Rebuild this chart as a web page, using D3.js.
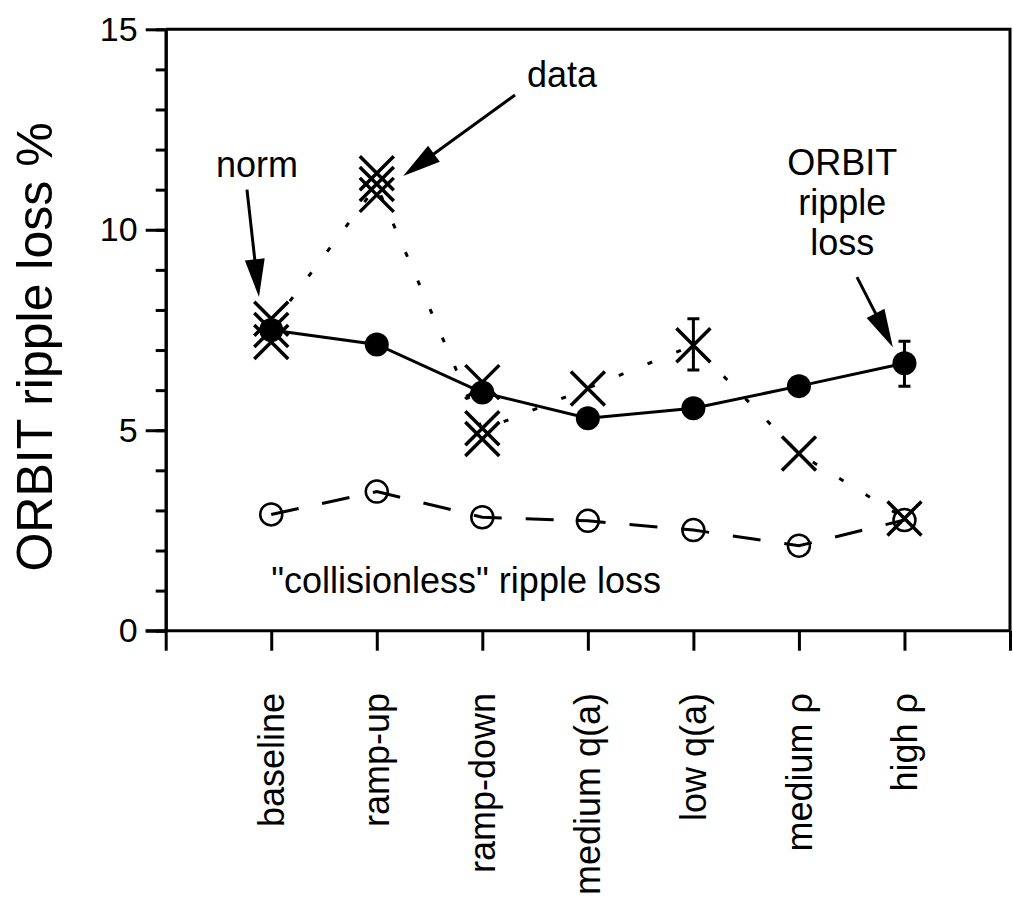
<!DOCTYPE html>
<html>
<head>
<meta charset="utf-8">
<script src="https://cdn.jsdelivr.net/npm/d3@7"></script>
<style>
  body { margin: 0; background: #fff; }
  svg { display: block; font-family: "Liberation Sans", Arial, Helvetica, sans-serif; }
</style>
</head>
<body>
<svg></svg>
<script>
// categories along the x axis (placed at 1..7)
const categories = ["baseline", "ramp-up", "ramp-down", "medium q(a)", "low q(a)", "medium ρ", "high ρ"];

// ORBIT ripple loss (filled circles, solid line)
const orbitLoss = [7.50, 7.14, 5.94, 5.30, 5.55, 6.10, 6.67];
// "collisionless" ripple loss (open circles, dashed line)
const collisionless = [2.90, 3.47, 2.83, 2.74, 2.51, 2.12, 2.76];
// measured data (crosses), several shots per case
const dataPoints = [
  [7.78, 7.50, 7.20],
  [11.41, 11.14, 10.87],
  [6.20, 5.05, 4.78],
  [6.04],
  [7.12],
  [4.42],
  [2.80]
];
// dotted line through the data
const dataTrend = [7.60, 11.10, 5.00, 6.05, 7.12, 4.42, 2.80];

// error bars: [category index, low, high]
const orbitErrors = [[6, 6.10, 7.22]];
const dataErrors = [[4, 6.50, 7.78]];

const yTicksMajor = [0, 5, 10, 15];

const width = 1013;
const height = 909;

const svg = d3.select("svg")
  .attr("width", width)
  .attr("height", height);

const x = d3.scaleLinear().domain([0, 8]).range([165.7, 1010]);
const y = d3.scaleLinear().domain([0, 15]).range([630.7, 29.3]);

const lw = 3;

// frame (top and right)
svg.append("path")
  .attr("d", `M${x(0)},${y(15)}H${x(8)}V${y(0)}`)
  .attr("fill", "none")
  .attr("stroke", "#000")
  .attr("stroke-width", lw);

// y axis: minor then major ticks
svg.append("g")
  .attr("transform", `translate(${x(0)},0)`)
  .call(d3.axisLeft(y).tickValues(d3.range(0, 16)).tickSize(10).tickSizeOuter(0).tickFormat(""));
const yMajor = svg.append("g")
  .attr("transform", `translate(${x(0)},0)`)
  .call(d3.axisLeft(y).tickValues(yTicksMajor).tickSize(20).tickSizeOuter(0).tickPadding(8).tickFormat(d3.format("d")));

// x axis
const xAxis = svg.append("g")
  .attr("transform", `translate(0,${y(0)})`)
  .call(d3.axisBottom(x).tickValues(d3.range(0, 9)).tickSize(20).tickSizeOuter(0).tickFormat(""));

svg.selectAll(".domain, .tick line")
  .attr("stroke", "#000")
  .attr("stroke-width", lw);
// extend x axis line to meet the 0 tick
xAxis.select(".domain").attr("d", `M${x(0) - 20},0H${x(8)}`);

yMajor.selectAll(".tick text")
  .attr("font-size", 34)
  .attr("fill", "#000")
  .attr("font-family", "inherit");

// category labels
svg.append("g")
  .selectAll("text")
  .data(categories)
  .join("text")
  .attr("transform", (d, i) => `translate(${x(i + 1)},693) rotate(-90)`)
  .attr("text-anchor", "end")
  .attr("dy", "0.35em")
  .attr("font-size", 36)
  .text(d => d);

// y axis title
svg.append("text")
  .attr("transform", `translate(52,${(y(0) + y(15)) / 2 + 17}) rotate(-90)`)
  .attr("text-anchor", "middle")
  .attr("font-size", 50)
  .text("ORBIT ripple loss %");

const idx = d3.range(categories.length);

// collisionless: dashed line + open circles
svg.append("path")
  .datum(idx)
  .attr("d", d3.line().x(i => x(i + 1)).y(i => y(collisionless[i])))
  .attr("fill", "none")
  .attr("stroke", "#000")
  .attr("stroke-width", lw)
  .attr("stroke-dasharray", "28,24");

svg.append("g")
  .selectAll("circle")
  .data(idx)
  .join("circle")
  .attr("cx", i => x(i + 1))
  .attr("cy", i => y(collisionless[i]))
  .attr("r", 11)
  .attr("fill", "none")
  .attr("stroke", "#000")
  .attr("stroke-width", 2.5);

// data: dotted line + crosses
svg.append("path")
  .datum(idx)
  .attr("d", d3.line().x(i => x(i + 1)).y(i => y(dataTrend[i])))
  .attr("fill", "none")
  .attr("stroke", "#000")
  .attr("stroke-width", lw)
  .attr("stroke-dasharray", "5,26");

const crosses = [];
dataPoints.forEach((vals, i) => vals.forEach(v => crosses.push({ i, v })));
const s = 17;
svg.append("g")
  .selectAll("path")
  .data(crosses)
  .join("path")
  .attr("d", d => {
    const cx = x(d.i + 1), cy = y(d.v);
    return `M${cx - s},${cy - s}L${cx + s},${cy + s}M${cx - s},${cy + s}L${cx + s},${cy - s}`;
  })
  .attr("fill", "none")
  .attr("stroke", "#000")
  .attr("stroke-width", 3.5);

// ORBIT: solid line + filled circles
svg.append("path")
  .datum(idx)
  .attr("d", d3.line().x(i => x(i + 1)).y(i => y(orbitLoss[i])))
  .attr("fill", "none")
  .attr("stroke", "#000")
  .attr("stroke-width", lw);

svg.append("g")
  .selectAll("circle")
  .data(idx)
  .join("circle")
  .attr("cx", i => x(i + 1))
  .attr("cy", i => y(orbitLoss[i]))
  .attr("r", 12)
  .attr("fill", "#000");

// error bars
const cap = 6;
svg.append("g")
  .selectAll("path")
  .data(orbitErrors.concat(dataErrors))
  .join("path")
  .attr("d", ([i, lo, hi]) => {
    const cx = x(i + 1);
    return `M${cx},${y(lo)}V${y(hi)}M${cx - cap},${y(lo)}H${cx + cap}M${cx - cap},${y(hi)}H${cx + cap}`;
  })
  .attr("fill", "none")
  .attr("stroke", "#000")
  .attr("stroke-width", 3);

// annotations (data units)
const labels = [
  { lines: ["norm"], x: 0.865, y: 11.31 },
  { lines: ["data"], x: 3.755, y: 13.56 },
  { lines: ["ORBIT", "ripple", "loss"], x: 6.41, y: 11.36 }
];
const arrows = [
  { x1: 0.77, y1: 11.0, x2: 0.884, y2: 8.32 },
  { x1: 3.31, y1: 13.36, x2: 2.25, y2: 11.34 },
  { x1: 6.55, y1: 8.82, x2: 6.89, y2: 7.07 }
];

labels.forEach(l => {
  const t = svg.append("text")
    .attr("x", x(l.x))
    .attr("y", y(l.y))
    .attr("text-anchor", "middle")
    .attr("font-size", 36);
  l.lines.forEach((line, k) => {
    t.append("tspan")
      .attr("x", x(l.x))
      .attr("dy", k === 0 ? 0 : 40)
      .text(line);
  });
});

const headLen = 38, headW = 10;
arrows.forEach(a => {
  const px1 = x(a.x1), py1 = y(a.y1), px2 = x(a.x2), py2 = y(a.y2);
  const dx = px2 - px1, dy = py2 - py1;
  const len = Math.hypot(dx, dy);
  const ux = dx / len, uy = dy / len;
  const bx = px2 - ux * headLen, by = py2 - uy * headLen;
  svg.append("line")
    .attr("x1", px1).attr("y1", py1)
    .attr("x2", bx + ux * 2).attr("y2", by + uy * 2)
    .attr("stroke", "#000")
    .attr("stroke-width", 3);
  svg.append("path")
    .attr("d", `M${px2},${py2}L${bx - uy * headW},${by + ux * headW}L${bx + uy * headW},${by - ux * headW}Z`)
    .attr("fill", "#000");
});

svg.append("text")
  .attr("x", x(1))
  .attr("y", y(0.94))
  .attr("font-size", 36)
  .text("\"collisionless\" ripple loss");
</script>
</body>
</html>
